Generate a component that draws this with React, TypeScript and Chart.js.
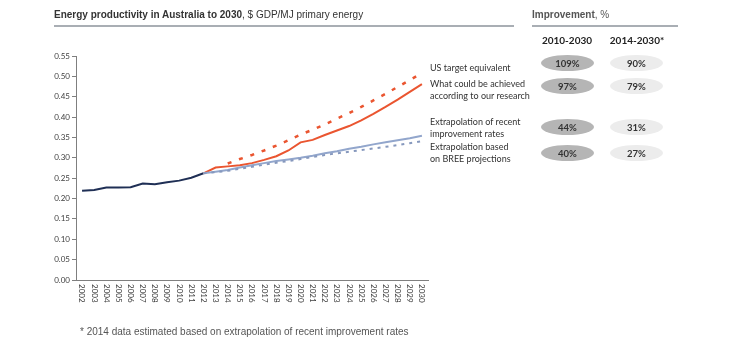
import React, { useEffect, useRef } from "react";
import { Chart, registerables } from "chart.js";

Chart.register(...registerables);

const years = [
  "2002", "2003", "2004", "2005", "2006", "2007", "2008", "2009", "2010", "2011",
  "2012", "2013", "2014", "2015", "2016", "2017", "2018", "2019", "2020", "2021",
  "2022", "2023", "2024", "2025", "2026", "2027", "2028", "2029", "2030",
];

const N = null;
const historical = [0.219, 0.221, 0.227, 0.227, 0.228, 0.237, 0.235, 0.24, 0.244, 0.251, 0.262,
  N, N, N, N, N, N, N, N, N, N, N, N, N, N, N, N, N, N];
const research = [N, N, N, N, N, N, N, N, N, N,
  0.262, 0.276, 0.279, 0.282, 0.287, 0.295, 0.304, 0.318, 0.338, 0.344,
  0.356, 0.367, 0.378, 0.392, 0.408, 0.425, 0.443, 0.462, 0.481];
const usTarget = [N, N, N, N, N, N, N, N, N, N, N, N,
  0.286, 0.297, 0.307, 0.318, 0.33, 0.343, 0.357, 0.369,
  0.382, 0.396, 0.41, 0.425, 0.441, 0.457, 0.474, 0.491, 0.508];
const recentRates = [N, N, N, N, N, N, N, N, N, N,
  0.262, 0.266, 0.27, 0.276, 0.282, 0.287, 0.292, 0.296, 0.3, 0.305,
  0.311, 0.316, 0.322, 0.327, 0.333, 0.338, 0.343, 0.348, 0.354];
const breeProj = [N, N, N, N, N, N, N, N, N, N,
  0.262, 0.265, 0.268, 0.273, 0.278, 0.283, 0.288, 0.292, 0.297, 0.302,
  0.307, 0.311, 0.315, 0.319, 0.323, 0.327, 0.331, 0.336, 0.341];

const yTicks = [0, 0.05, 0.1, 0.15, 0.2, 0.25, 0.3, 0.35, 0.4, 0.45, 0.5, 0.55];

const seriesLabels = [
  { lines: ["US target equivalent"], top: 62 },
  { lines: ["What could be achieved", "according to our research"], top: 78 },
  { lines: ["Extrapolation of recent", "improvement rates"], top: 116 },
  { lines: ["Extrapolation based", "on BREE projections"], top: 141 },
];
const period1 = ["109%", "97%", "44%", "40%"];
const period2 = ["90%", "79%", "31%", "27%"];
const rowCenters = [63, 86, 127, 153];

const NAVY = "#1f2f55";
const RED = "#ea5530";
const LIGHT = "#92a6cc";
const BREE = "#8698bd";

const xLabelPlugin = {
  id: "xLabels",
  afterDraw(chart: any) {
    const ctx = chart.ctx;
    const xs = chart.scales.x;
    const yBase = chart.chartArea.bottom + 4;
    ctx.save();
    ctx.fillStyle = "#404040";
    ctx.font = "8px Lato";
    ctx.textAlign = "left";
    ctx.textBaseline = "middle";
    years.forEach((y, i) => {
      const px = xs.getPixelForValue(i);
      ctx.save();
      ctx.translate(px, yBase);
      ctx.rotate(Math.PI / 2);
      ctx.fillText(y, 0, 0);
      ctx.restore();
    });
    ctx.restore();
  },
};

export default function App() {
  const ref = useRef<HTMLCanvasElement | null>(null);

  useEffect(() => {
    if (!ref.current) return;
    const chart = new Chart(ref.current, {
      type: "line",
      data: {
        labels: years,
        datasets: [
          { data: breeProj, borderColor: BREE, borderWidth: 2, borderDash: [3, 5], pointRadius: 0, fill: false },
          { data: recentRates, borderColor: LIGHT, borderWidth: 2, pointRadius: 0, fill: false },
          { data: research, borderColor: RED, borderWidth: 2, pointRadius: 0, fill: false },
          { data: usTarget, borderColor: RED, borderWidth: 2.5, borderDash: [4, 8], pointRadius: 0, fill: false },
          { data: historical, borderColor: NAVY, borderWidth: 2, pointRadius: 0, fill: false },
        ],
      },
      options: {
        responsive: false,
        animation: false,
        layout: { padding: { left: 36, right: 326, top: 56, bottom: 49 } },
        plugins: { legend: { display: false }, tooltip: { enabled: false } },
        scales: {
          x: {
            offset: true,
            grid: { display: false, drawOnChartArea: false, drawTicks: false },
            border: { display: true, color: "#7f7f7f", width: 1 },
            ticks: { display: false },
            afterFit: (s: any) => { s.height = 30; },
          },
          y: {
            min: 0,
            max: 0.55,
            afterBuildTicks: (s: any) => { s.ticks = yTicks.map((v) => ({ value: v })); },
            grid: { drawOnChartArea: false, drawTicks: true, tickLength: 4, color: "#7f7f7f" },
            border: { display: true, color: "#7f7f7f", width: 1 },
            ticks: {
              padding: 2,
              color: "#404040",
              font: { family: "Lato", size: 8 },
              callback: (v: any) => Number(v).toFixed(2),
            },
            afterFit: (s: any) => { s.width = 40; },
          },
        },
      },
      plugins: [xLabelPlugin],
    });
    return () => chart.destroy();
  }, []);

  const base: React.CSSProperties = { position: "absolute", whiteSpace: "nowrap" };

  return (
    <div style={{ position: "absolute", left: 0, top: 0, width: 754, height: 359, background: "#fff", overflow: "hidden" }}>
      <canvas ref={ref} width={754} height={359} style={{ position: "absolute", left: 0, top: 0, width: 754, height: 359 }} />
      <div style={{ ...base, left: 54, top: 9, fontFamily: "'Liberation Sans', Arial, sans-serif", fontSize: 10, color: "#333" }}>
        <b>Energy productivity in Australia to 2030</b>, $ GDP/MJ primary energy
      </div>
      <div style={{ ...base, left: 54, top: 25, width: 460, height: 2, background: "#a9aeb4" }} />
      <div style={{ ...base, left: 532, top: 9, fontFamily: "'Liberation Sans', Arial, sans-serif", fontSize: 10, color: "#555" }}>
        <b>Improvement</b>, %
      </div>
      <div style={{ ...base, left: 532, top: 25, width: 146, height: 2, background: "#a9aeb4" }} />
      <div style={{ ...base, left: 527, top: 34, width: 80, textAlign: "center", fontFamily: "Lato", fontWeight: 700, fontSize: 10, color: "#222" }}>2010-2030</div>
      <div style={{ ...base, left: 597, top: 34, width: 80, textAlign: "center", fontFamily: "Lato", fontWeight: 700, fontSize: 10, color: "#222" }}>2014-2030*</div>
      {rowCenters.map((c, i) => (
        <React.Fragment key={i}>
          <div style={{ ...base, left: 541, top: c - 8, width: 53, height: 16, borderRadius: "50%", background: "#b5b5b5", display: "flex", alignItems: "center", justifyContent: "center", fontFamily: "Lato", fontWeight: 700, fontSize: 9.5, color: "#333" }}>{period1[i]}</div>
          <div style={{ ...base, left: 610, top: c - 8, width: 53, height: 16, borderRadius: "50%", background: "#ececec", display: "flex", alignItems: "center", justifyContent: "center", fontFamily: "Lato", fontWeight: 700, fontSize: 9.5, color: "#333" }}>{period2[i]}</div>
        </React.Fragment>
      ))}
      {seriesLabels.map((s, i) => (
        <div key={i} style={{ ...base, left: 430, top: s.top, fontFamily: "Lato", fontSize: 9, lineHeight: "12px", color: "#333" }}>
          {s.lines.map((l, j) => <div key={j}>{l}</div>)}
        </div>
      ))}
      <div style={{ ...base, left: 80, top: 326, fontFamily: "'Liberation Sans', Arial, sans-serif", fontSize: 10, color: "#555" }}>
        * 2014 data estimated based on extrapolation of recent improvement rates
      </div>
    </div>
  );
}
